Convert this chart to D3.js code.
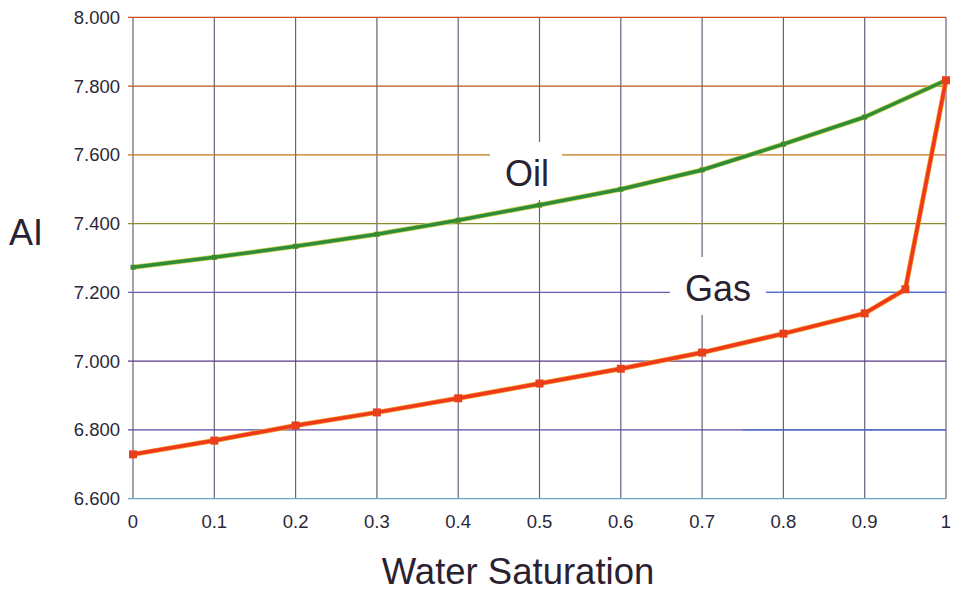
<!DOCTYPE html>
<html><head><meta charset="utf-8">
<script src="https://cdn.jsdelivr.net/npm/d3@7"></script>
<style>body{margin:0;background:#fff;} svg{display:block;}</style>
</head><body>
<svg id="c" width="953" height="594"></svg>
<script>
const xTicks = [0,0.1,0.2,0.3,0.4,0.5,0.6,0.7,0.8,0.9,1];
const xTickLabels = ["0","0.1","0.2","0.3","0.4","0.5","0.6","0.7","0.8","0.9","1"];
const yTicks = [6.6,6.8,7.0,7.2,7.4,7.6,7.8,8.0];
const yTickLabels = ["6.600","6.800","7.000","7.200","7.400","7.600","7.800","8.000"];
const oilSw = [0,0.1,0.2,0.3,0.4,0.5,0.6,0.7,0.8,0.9,1];
const oilAI = [7.273,7.302,7.334,7.369,7.410,7.454,7.500,7.556,7.631,7.710,7.817];
const gasSw = [0,0.1,0.2,0.3,0.4,0.5,0.6,0.7,0.8,0.9,0.95,1];
const gasAI = [6.729,6.769,6.813,6.851,6.892,6.935,6.978,7.025,7.080,7.139,7.209,7.817];
const gridColors = ["#6aa6c8","#5a4aa0","#5a3a8a","#6a5ab0","#8a8a30","#c8741a","#b8581a","#c8501a"];

const svg = d3.select("#c");
const m = {l:133, r:946, t:17.3, b:498.7};
const x = d3.scaleLinear().domain([0,1]).range([m.l, m.r]);
const y = d3.scaleLinear().domain([6.6,8.0]).range([m.b, m.t]);
const font = "Liberation Sans, Arial, sans-serif";

svg.append("g").selectAll("line").data(xTicks).join("line")
  .attr("x1", d=>x(d)).attr("x2", d=>x(d)).attr("y1", m.t).attr("y2", m.b)
  .attr("stroke", "#6a6078").attr("stroke-width", 1.2);
svg.append("g").selectAll("line").data(yTicks).join("line")
  .attr("x1", m.l-5).attr("x2", m.r).attr("y1", d=>y(d)).attr("y2", d=>y(d))
  .attr("stroke", (d,i)=>gridColors[i]).attr("stroke-width", 1.3);
svg.append("g").selectAll("line").data([7.2,6.8]).join("line")
  .attr("x1", x(0.75)).attr("x2", m.r).attr("y1", d=>y(d)).attr("y2", d=>y(d))
  .attr("stroke", "#4a70d0").attr("stroke-width", 1.3);

svg.append("g").selectAll("text").data(yTicks).join("text")
  .attr("x", 120).attr("y", d=>y(d)).attr("dy", "0.35em")
  .attr("text-anchor", "end").attr("font-family", font).attr("font-size", 18.5)
  .attr("fill", "#2a2838").text((d,i)=>yTickLabels[i]);
svg.append("g").selectAll("text").data(xTicks).join("text")
  .attr("x", d=>x(d)).attr("y", 528)
  .attr("text-anchor", "middle").attr("font-family", font).attr("font-size", 18.5)
  .attr("fill", "#2a2838").text((d,i)=>xTickLabels[i]);

svg.append("rect").attr("x", 490).attr("y", 142).attr("width", 72).attr("height", 58).attr("fill", "#fff");
svg.append("rect").attr("x", 670).attr("y", 257).attr("width", 96).attr("height", 58).attr("fill", "#fff");

const line = d3.line().x(d=>x(d[0])).y(d=>y(d[1]));
const oil = oilSw.map((s,i)=>[s, oilAI[i]]);
const gas = gasSw.map((s,i)=>[s, gasAI[i]]);

function drawSeries(data, edge, col, mark, ms){
  svg.append("path").datum(data).attr("d", line).attr("fill","none")
    .attr("stroke", edge).attr("stroke-width", 5).attr("stroke-linejoin","round");
  svg.append("path").datum(data).attr("d", line).attr("fill","none")
    .attr("stroke", col).attr("stroke-width", 3.5).attr("stroke-linejoin","round");
  svg.append("g").selectAll("rect").data(data).join("rect")
    .attr("x", d=>x(d[0])-ms/2).attr("y", d=>y(d[1])-ms/2)
    .attr("width", ms).attr("height", ms).attr("fill", mark);
}
drawSeries(oil, "#c8d040", "#2e8c3a", "#3a8a30", 5);
drawSeries(gas, "#f09a20", "#f0381c", "#e8401a", 8);

svg.append("text").attr("x", 527).attr("y", 186).attr("text-anchor","middle")
  .attr("font-family", font).attr("font-size", 36).attr("fill","#2a2230").text("Oil");
svg.append("text").attr("x", 718).attr("y", 301).attr("text-anchor","middle")
  .attr("font-family", font).attr("font-size", 36).attr("fill","#2a2230").text("Gas");

svg.append("text").attr("x", 26).attr("y", 245).attr("text-anchor","middle")
  .attr("font-family", font).attr("font-size", 36).attr("fill","#2a2230").text("AI");
svg.append("text").attr("x", 518).attr("y", 584).attr("text-anchor","middle")
  .attr("font-family", font).attr("font-size", 36.5).attr("fill","#2a2230").text("Water Saturation");
</script>
</body></html>
